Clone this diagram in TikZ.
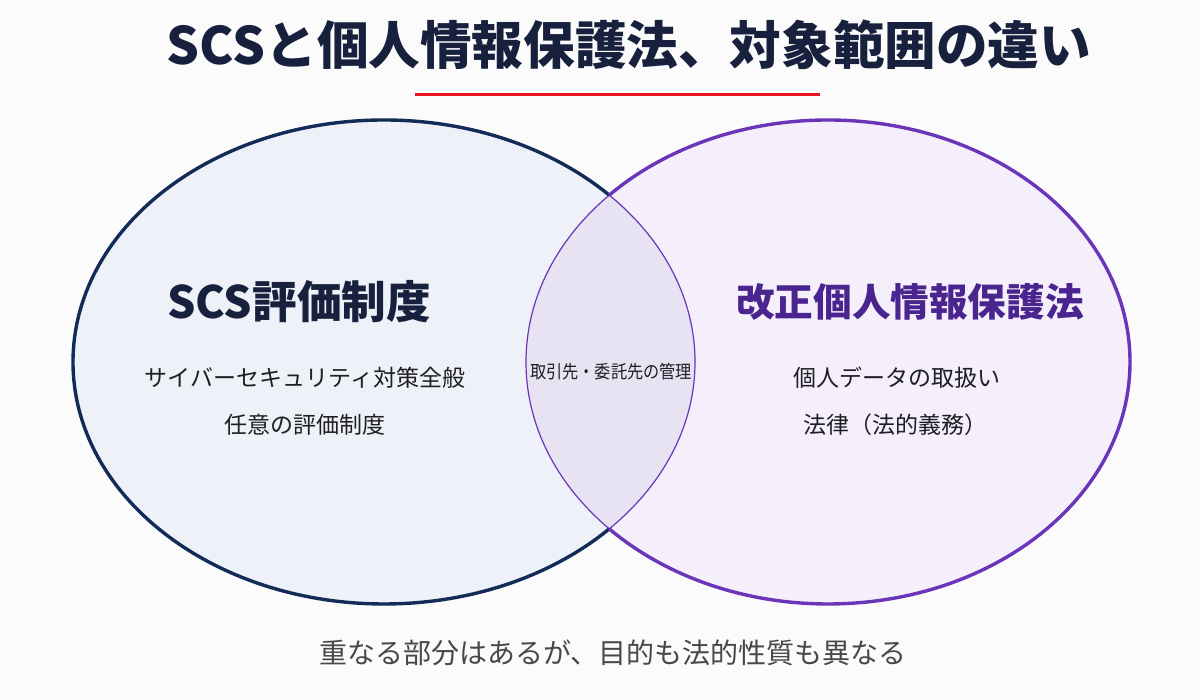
\documentclass[tikz,border=0pt]{standalone}
\usepackage{fontspec}
\setmainfont{Noto Sans CJK JP}
\definecolor{bgc}{HTML}{FBFBFC}
\definecolor{navy}{HTML}{132B57}
\definecolor{titlec}{HTML}{17213D}
\definecolor{purp}{HTML}{6A35B8}
\definecolor{purpdark}{HTML}{4A2590}
\definecolor{lfill}{HTML}{EEF2F8}
\definecolor{rfill}{HTML}{F4EFFA}
\definecolor{lensc}{HTML}{E7E3F2}
\definecolor{bodyc}{HTML}{1E1E24}
\definecolor{grayc}{HTML}{47474C}
\definecolor{redc}{HTML}{E5161D}
\tikzset{
  heading/.style={font=\fontsize{20pt}{24pt}\selectfont\bfseries, inner sep=0pt},
  bodytext/.style={font=\fontsize{11.5pt}{14pt}\selectfont, text=bodyc, inner sep=0pt},
}
\begin{document}
\begin{tikzpicture}[x=0.5pt,y=0.5pt]
\useasboundingbox (0,0) rectangle (1200,700);
\fill[bgc] (0,0) rectangle (1200,700);
% fills
\fill[lfill] (384,338) ellipse [x radius=311, y radius=242];
\fill[rfill] (828,338) ellipse [x radius=302, y radius=242];
\begin{scope}
  \clip (384,338) ellipse [x radius=311, y radius=242];
  \fill[lensc] (828,338) ellipse [x radius=302, y radius=242];
  \draw[purp, line width=0.6pt] (828,338) ellipse [x radius=302, y radius=242];
\end{scope}
\begin{scope}
  \clip (828,338) ellipse [x radius=302, y radius=242];
  \draw[purp, line width=0.6pt] (384,338) ellipse [x radius=311, y radius=242];
\end{scope}
% thick outer outlines
\begin{scope}
  \clip (0,0) -- (0,700) -- (1200,700) -- (1200,0) -- cycle (828,338) ellipse [x radius=302, y radius=242];
  \draw[navy, line width=1.7pt] (384,338) ellipse [x radius=311, y radius=242];
\end{scope}
\begin{scope}
  \clip (0,0) -- (0,700) -- (1200,700) -- (1200,0) -- cycle (384,338) ellipse [x radius=311, y radius=242];
  \draw[purp, line width=1.7pt] (828,338) ellipse [x radius=302, y radius=242];
\end{scope}
% title
\node[font=\fontsize{25.8pt}{30pt}\selectfont\bfseries, text=titlec, inner sep=0pt] (title) at (629,655) {SCSと個人情報保護法、対象範囲の違い};
\coordinate (rl1) at (415,605);
\coordinate (rl2) at (820,605);
\draw[redc, line width=1.5pt] (rl1) -- (rl2);
% left
\node[heading, text=titlec, font=\fontsize{22.3pt}{26pt}\selectfont\bfseries] (lhead) at (299,398) {SCS評価制度};
\node[bodytext] (lb1) at (305,322) {サイバーセキュリティ対策全般};
\node[bodytext] (lb2) at (305,275) {任意の評価制度};
% right
\node[heading, text=purpdark, font=\fontsize{19.3pt}{24pt}\selectfont\bfseries] (rhead) at (910,398) {改正個人情報保護法};
\node[bodytext] (rb1) at (897,322) {個人データの取扱い};
\node[bodytext] (rb2) at (895,275) {法律（法的義務）};
% center
\node[font=\fontsize{9pt}{11pt}\selectfont, text=bodyc, inner sep=0pt, xscale=0.9] (center) at (611,328) {取引先・委託先の管理};
% bottom
\node[font=\fontsize{14pt}{17pt}\selectfont, text=grayc, inner sep=0pt] (bottom) at (613,47) {重なる部分はあるが、目的も法的性質も異なる};
\end{tikzpicture}
\end{document}
